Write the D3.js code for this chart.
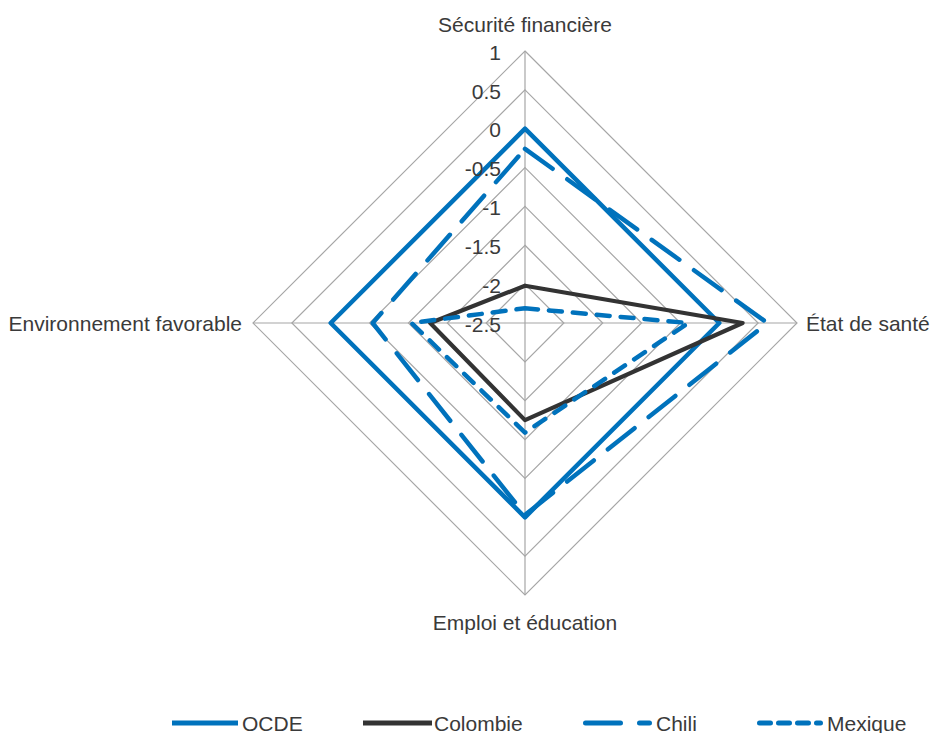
<!DOCTYPE html>
<html>
<head>
<meta charset="utf-8">
<script src="https://cdn.jsdelivr.net/npm/d3@7"></script>
<style>
  html, body { margin: 0; padding: 0; background: #ffffff; }
  svg { display: block; }
  text { font-family: "Liberation Sans", Arial, sans-serif; fill: #3a3a3a; }
</style>
</head>
<body>
<svg id="chart" width="930" height="733"></svg>
<script>
// Radar axes (clockwise from top)
const axes = ["Sécurité financière", "État de santé", "Emploi et éducation", "Environnement favorable"];

// Scores per country, in axis order
const ocde     = [0, 0, 0, 0];
const colombie = [-2.02, 0.30, -1.25, -1.28];
const chili    = [-0.26, 0.62, -0.03, -0.54];
const mexique  = [-2.31, -0.40, -1.09, -1.04];

const seriesNames = ["OCDE", "Colombie", "Chili", "Mexique"];
const seriesValues = [ocde, colombie, chili, mexique];

// Radial scale ticks
const tickValues = [-2.5, -2, -1.5, -1, -0.5, 0, 0.5, 1];

const FONT = 21;

const styles = {
  OCDE:     { color: "#0072bc", width: 4.5, dash: null, legendDash: null, cap: "butt" },
  Colombie: { color: "#333333", width: 4.2, dash: null, legendDash: null, cap: "butt" },
  Chili:    { color: "#0072bc", width: 4.5, dash: "34,18", legendDash: "35,19", cap: "round" },
  Mexique:  { color: "#0072bc", width: 4.5, dash: "13,11", legendDash: "11,8", cap: "round" }
};

const svg = d3.select("#chart");
const cx = 525, cy = 323, R = 272;

const r = d3.scaleLinear().domain([-2.5, 1]).range([0, R]);
const angle = d3.scalePoint().domain(axes).range([0, 2 * Math.PI * (axes.length - 1) / axes.length]);

const g = svg.append("g").attr("transform", `translate(${cx},${cy})`);

// Grid rings (diamonds)
const ring = d3.lineRadial()
  .angle(a => angle(a))
  .curve(d3.curveLinearClosed);

g.append("g").selectAll("path")
  .data(tickValues.filter(v => v > -2.5))
  .join("path")
  .attr("d", v => ring.radius(() => r(v))(axes))
  .attr("fill", "none")
  .attr("stroke", "#a6a6a6")
  .attr("stroke-width", 1.2);

// Spokes
g.append("g").selectAll("line")
  .data(axes)
  .join("line")
  .attr("x1", 0).attr("y1", 0)
  .attr("x2", a => R * Math.sin(angle(a)))
  .attr("y2", a => -R * Math.cos(angle(a)))
  .attr("stroke", "#a6a6a6")
  .attr("stroke-width", 1.2);

// Axis category labels
const labelPos = {
  "Sécurité financière":     { dx: 0, dy: -R - 19, anchor: "middle" },
  "État de santé":           { dx: R + 9, dy: 7.5, anchor: "start" },
  "Emploi et éducation":     { dx: 0, dy: R + 35, anchor: "middle" },
  "Environnement favorable": { dx: -R - 11, dy: 7.5, anchor: "end" }
};
g.append("g").selectAll("text")
  .data(axes)
  .join("text")
  .attr("x", a => labelPos[a].dx)
  .attr("y", a => labelPos[a].dy)
  .attr("text-anchor", a => labelPos[a].anchor)
  .attr("font-size", FONT)
  .text(a => a);

// Series
const line = d3.lineRadial()
  .angle((d, i) => angle(axes[i]))
  .radius(d => r(d))
  .curve(d3.curveLinearClosed);

g.append("g").selectAll("path")
  .data(seriesNames)
  .join("path")
  .attr("d", (name, i) => line(seriesValues[i]))
  .attr("fill", "none")
  .attr("stroke", n => styles[n].color)
  .attr("stroke-width", n => styles[n].width)
  .attr("stroke-dasharray", n => styles[n].dash)
  .attr("stroke-linecap", n => styles[n].cap)
  .attr("stroke-linejoin", "round");

// Radial tick labels along the vertical axis
const yScale = d3.scaleLinear().domain([-2.5, 1]).range([cy, cy - R]);
const tickAxis = d3.axisLeft(yScale)
  .tickValues(tickValues)
  .tickSize(0)
  .tickPadding(0)
  .tickFormat(d => String(d));
const ta = svg.append("g")
  .attr("transform", "translate(501,1.5)")
  .call(tickAxis);
ta.select(".domain").remove();
ta.selectAll("text")
  .attr("font-size", FONT)
  .attr("font-family", "Liberation Sans, Arial, sans-serif")
  .attr("fill", "#3a3a3a");

// Legend
const legendItems = [
  { name: "OCDE", x1: 172, x2: 238, tx: 242 },
  { name: "Colombie", x1: 363, x2: 432, tx: 434 },
  { name: "Chili", x1: 583, x2: 652, tx: 656 },
  { name: "Mexique", x1: 757, x2: 823, tx: 827 }
];
const lg = svg.append("g");
const li = lg.selectAll("g").data(legendItems).join("g");
li.append("line")
  .attr("x1", d => d.x1 + (styles[d.name].cap === "round" ? 2.5 : 0))
  .attr("x2", d => d.x2 - (styles[d.name].cap === "round" ? 2.5 : 0))
  .attr("y1", 723).attr("y2", 723)
  .attr("stroke", d => styles[d.name].color)
  .attr("stroke-width", 5)
  .attr("stroke-dasharray", d => styles[d.name].legendDash)
  .attr("stroke-linecap", d => styles[d.name].cap);
li.append("text")
  .attr("x", d => d.tx)
  .attr("y", 730.5)
  .attr("font-size", FONT)
  .text(d => d.name);
</script>
</body>
</html>
